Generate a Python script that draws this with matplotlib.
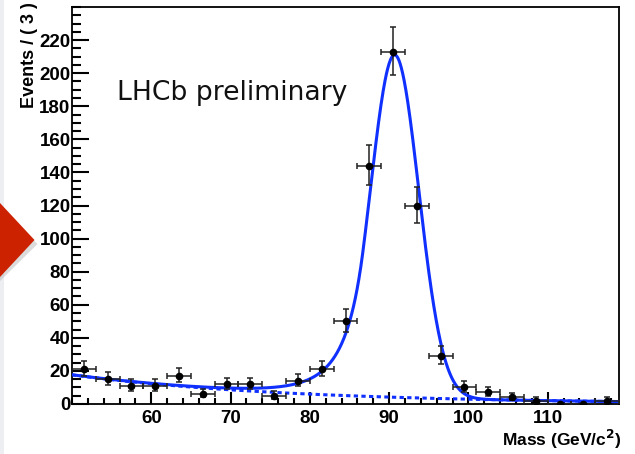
import numpy as np
import matplotlib
matplotlib.use("Agg")
import matplotlib.pyplot as plt
from matplotlib.patches import Polygon, Rectangle
from matplotlib.ticker import MultipleLocator

# ---------------- data ----------------
bin_width = 3.0
x_min, x_max = 50.0, 119.0
bin_centers = [51.5, 54.5, 57.5, 60.5, 63.5, 66.5, 69.5, 72.5, 75.5, 78.5, 81.5, 84.5,
               87.5, 90.5, 93.5, 96.5, 99.5, 102.5, 105.5, 108.5, 111.5, 114.5, 117.5]
counts = [21, 15, 11, 11, 17, 6, 12, 12, 5, 14, 21, 50,
          144, 213, 120, 29, 10, 7, 4, 2, 0, 0, 2]

# fit model parameters (signal: Crystal Ball, background: exponential)
sig_peak = 90.7
sig_sigma = 3.05
sig_alpha = 1.3
sig_n = 5.0
sig_height = 207.0
bkg_at_min = 17.6
bkg_slope = -0.036

xticks = [60, 70, 80, 90, 100, 110]
yticks = [0, 20, 40, 60, 80, 100, 120, 140, 160, 180, 200, 220]

# ---------------- helpers ----------------
def background(m):
    return bkg_at_min * np.exp(bkg_slope * (m - x_min))

def signal(m):
    t = (m - sig_peak) / sig_sigma
    a = sig_alpha
    n = sig_n
    A = (n / a) ** n * np.exp(-a * a / 2)
    B = n / a - a
    out = np.where(t > -a, np.exp(-t * t / 2), A * np.abs(B - t) ** (-n))
    return sig_height * out

# ---------------- figure ----------------
fig = plt.figure(figsize=(6.35, 4.54), dpi=100)
fig.patch.set_facecolor("white")
W, H = 635.0, 454.0

# decorative left strip and red arrow from the slide
fig.patches.append(Rectangle((0, 0), 4 / W, 1, transform=fig.transFigure,
                             facecolor="#eceef2", edgecolor="none", zorder=0))
shadow = [(0, 1 - 207 / H), (37.5 / W, 1 - 244 / H), (0, 1 - 281 / H)]
fig.patches.append(Polygon(shadow, closed=True, transform=fig.transFigure,
                           facecolor="#b0b0b0", edgecolor="none", alpha=0.45, zorder=1))
tri = [(0, 1 - 203 / H), (34.5 / W, 1 - 240 / H), (0, 1 - 277 / H)]
fig.patches.append(Polygon(tri, closed=True, transform=fig.transFigure,
                           facecolor="#cc2200", edgecolor="none", zorder=2))

ax = fig.add_axes([72 / W, 1 - 404 / H, 547 / W, 397 / H])
ax.set_xlim(x_min, x_max)
ax.set_ylim(0, 240)

curve_color = "#1030ff"
mgrid = np.linspace(x_min, x_max, 1200)
ax.plot(mgrid, background(mgrid), color=curve_color, lw=2.2,
        linestyle=(0, (1.4, 1.1)), zorder=2, solid_capstyle="butt")
ax.plot(mgrid, background(mgrid) + signal(mgrid), color=curve_color, lw=2.2, zorder=3)

c = np.array(counts, dtype=float)
err_hi = np.where(c > 0, 0.5 + np.sqrt(c + 0.25), 0.0)
err_lo = np.where(c > 0, -0.5 + np.sqrt(c + 0.25), 0.0)
ax.errorbar(bin_centers, counts, xerr=bin_width / 2, yerr=[err_lo, err_hi],
            fmt="o", color="black", ecolor="#222222", ms=4.5, elinewidth=1.1,
            capsize=2.2, capthick=1.1, zorder=4, clip_on=True)

# axes styling (ROOT-like)
ax.set_xticks(xticks)
ax.set_yticks(yticks)
ax.xaxis.set_minor_locator(MultipleLocator(2))
ax.yaxis.set_minor_locator(MultipleLocator(5))
ax.tick_params(axis="both", which="both", direction="in", top=False, right=False,
               width=1.5, color="black")
ax.tick_params(axis="y", which="major", length=12, pad=1)
ax.tick_params(axis="y", which="minor", length=6.5)
ax.tick_params(axis="x", which="major", length=8.5, pad=4.5)
ax.tick_params(axis="x", which="minor", length=4)
for lab in ax.get_xticklabels() + ax.get_yticklabels():
    lab.set_fontfamily("Liberation Sans")
    lab.set_fontweight("bold")
    lab.set_fontsize(13.5)
for s in ax.spines.values():
    s.set_linewidth(1.3)
    s.set_color("black")

ax.set_xlabel("Mass (GeV/c$^\\mathbf{2}$)", loc="right", fontfamily="Liberation Sans",
              fontweight="bold", fontsize=12.5)
ax.xaxis.set_label_coords(1.005, -0.060)
ax.set_ylabel("Events / ( 3 )", loc="top", fontfamily="Liberation Sans",
              fontweight="bold", fontsize=13)
ax.yaxis.set_label_coords(-0.078, 1.013)
ax.yaxis.label.set_verticalalignment("center")

ax.text(0.0823, 0.766, "LHCb preliminary", transform=ax.transAxes,
        fontfamily="DejaVu Sans", fontsize=19.2, color="#111111",
        ha="left", va="baseline")

fig.savefig("out.png", dpi=100, facecolor="white")
